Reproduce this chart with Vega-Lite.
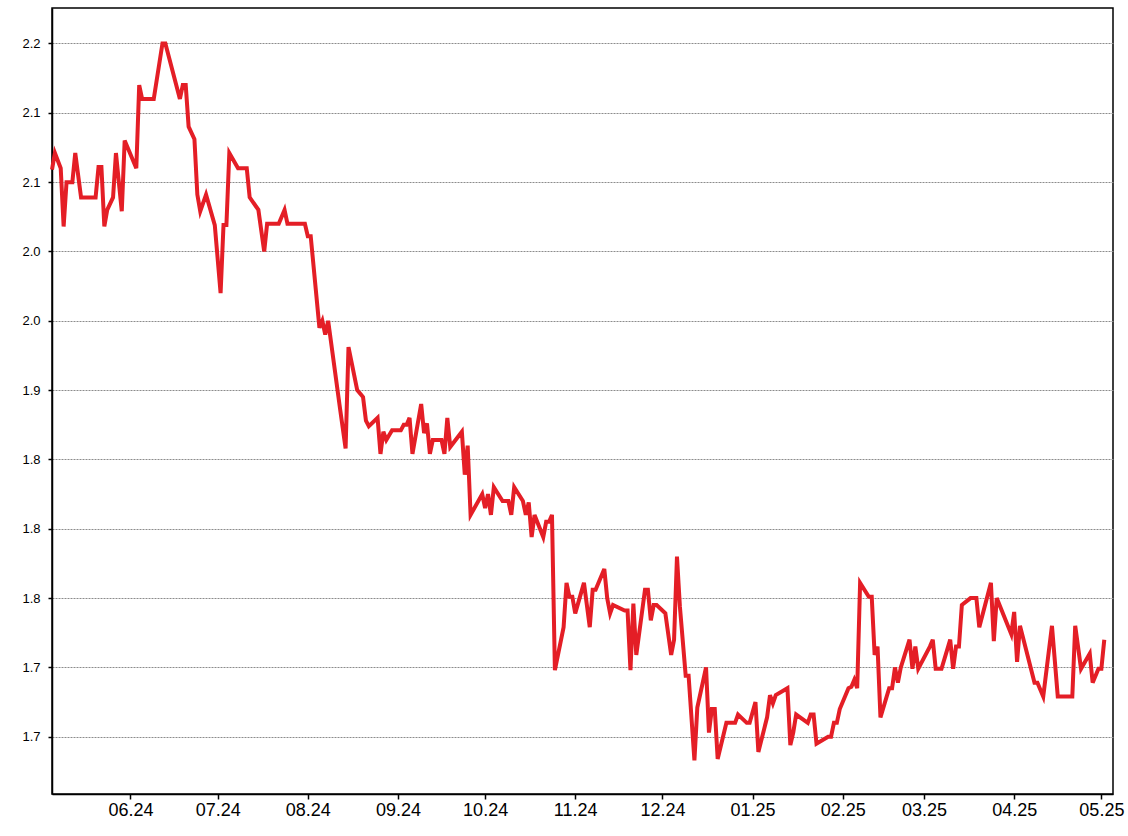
{
  "$schema": "https://vega.github.io/schema/vega-lite/v6.json",
  "width": 1061,
  "height": 786,
  "autosize": {"type": "none"},
  "padding": {"left": 52, "top": 8, "right": 15, "bottom": 42},
  "background": "#ffffff",
  "config": {
    "view": {"stroke": "#000000", "strokeWidth": 1.5},
    "font": "Liberation Sans"
  },
  "data": {
    "values": [
      {"date": "2024-05-05", "value": 2.109},
      {"date": "2024-05-06", "value": 2.121},
      {"date": "2024-05-08", "value": 2.110},
      {"date": "2024-05-09", "value": 2.068},
      {"date": "2024-05-10", "value": 2.100},
      {"date": "2024-05-12", "value": 2.100},
      {"date": "2024-05-13", "value": 2.121},
      {"date": "2024-05-15", "value": 2.089},
      {"date": "2024-05-20", "value": 2.089},
      {"date": "2024-05-21", "value": 2.111},
      {"date": "2024-05-22", "value": 2.111},
      {"date": "2024-05-23", "value": 2.068},
      {"date": "2024-05-24", "value": 2.080},
      {"date": "2024-05-26", "value": 2.089},
      {"date": "2024-05-27", "value": 2.121},
      {"date": "2024-05-29", "value": 2.079},
      {"date": "2024-05-30", "value": 2.130},
      {"date": "2024-06-03", "value": 2.110},
      {"date": "2024-06-04", "value": 2.170},
      {"date": "2024-06-05", "value": 2.160},
      {"date": "2024-06-09", "value": 2.160},
      {"date": "2024-06-12", "value": 2.200},
      {"date": "2024-06-13", "value": 2.200},
      {"date": "2024-06-18", "value": 2.160},
      {"date": "2024-06-19", "value": 2.170},
      {"date": "2024-06-20", "value": 2.170},
      {"date": "2024-06-21", "value": 2.140},
      {"date": "2024-06-23", "value": 2.131},
      {"date": "2024-06-24", "value": 2.091},
      {"date": "2024-06-25", "value": 2.079},
      {"date": "2024-06-27", "value": 2.091},
      {"date": "2024-06-30", "value": 2.069},
      {"date": "2024-07-02", "value": 2.020},
      {"date": "2024-07-03", "value": 2.069},
      {"date": "2024-07-04", "value": 2.069},
      {"date": "2024-07-05", "value": 2.121},
      {"date": "2024-07-08", "value": 2.110},
      {"date": "2024-07-11", "value": 2.110},
      {"date": "2024-07-12", "value": 2.089},
      {"date": "2024-07-15", "value": 2.080},
      {"date": "2024-07-17", "value": 2.050},
      {"date": "2024-07-18", "value": 2.070},
      {"date": "2024-07-22", "value": 2.070},
      {"date": "2024-07-24", "value": 2.080},
      {"date": "2024-07-25", "value": 2.070},
      {"date": "2024-07-31", "value": 2.070},
      {"date": "2024-08-01", "value": 2.061},
      {"date": "2024-08-02", "value": 2.061},
      {"date": "2024-08-05", "value": 1.995},
      {"date": "2024-08-06", "value": 2.000},
      {"date": "2024-08-07", "value": 1.990},
      {"date": "2024-08-08", "value": 2.000},
      {"date": "2024-08-12", "value": 1.938},
      {"date": "2024-08-14", "value": 1.908},
      {"date": "2024-08-15", "value": 1.981},
      {"date": "2024-08-18", "value": 1.950},
      {"date": "2024-08-20", "value": 1.945},
      {"date": "2024-08-21", "value": 1.928},
      {"date": "2024-08-22", "value": 1.924},
      {"date": "2024-08-25", "value": 1.930},
      {"date": "2024-08-26", "value": 1.904},
      {"date": "2024-08-27", "value": 1.920},
      {"date": "2024-08-28", "value": 1.914},
      {"date": "2024-08-30", "value": 1.921},
      {"date": "2024-09-02", "value": 1.921},
      {"date": "2024-09-03", "value": 1.925},
      {"date": "2024-09-04", "value": 1.925},
      {"date": "2024-09-05", "value": 1.930},
      {"date": "2024-09-06", "value": 1.904},
      {"date": "2024-09-09", "value": 1.940},
      {"date": "2024-09-10", "value": 1.919},
      {"date": "2024-09-11", "value": 1.926},
      {"date": "2024-09-12", "value": 1.904},
      {"date": "2024-09-13", "value": 1.914},
      {"date": "2024-09-16", "value": 1.914},
      {"date": "2024-09-17", "value": 1.904},
      {"date": "2024-09-18", "value": 1.930},
      {"date": "2024-09-19", "value": 1.909},
      {"date": "2024-09-23", "value": 1.920},
      {"date": "2024-09-24", "value": 1.889},
      {"date": "2024-09-25", "value": 1.910},
      {"date": "2024-09-26", "value": 1.860},
      {"date": "2024-09-30", "value": 1.875},
      {"date": "2024-10-01", "value": 1.865},
      {"date": "2024-10-02", "value": 1.875},
      {"date": "2024-10-03", "value": 1.860},
      {"date": "2024-10-04", "value": 1.880},
      {"date": "2024-10-07", "value": 1.870},
      {"date": "2024-10-09", "value": 1.870},
      {"date": "2024-10-10", "value": 1.860},
      {"date": "2024-10-11", "value": 1.880},
      {"date": "2024-10-14", "value": 1.870},
      {"date": "2024-10-15", "value": 1.860},
      {"date": "2024-10-16", "value": 1.869},
      {"date": "2024-10-17", "value": 1.844},
      {"date": "2024-10-18", "value": 1.860},
      {"date": "2024-10-21", "value": 1.844},
      {"date": "2024-10-22", "value": 1.855},
      {"date": "2024-10-23", "value": 1.855},
      {"date": "2024-10-24", "value": 1.860},
      {"date": "2024-10-25", "value": 1.748},
      {"date": "2024-10-28", "value": 1.779},
      {"date": "2024-10-29", "value": 1.811},
      {"date": "2024-10-30", "value": 1.801},
      {"date": "2024-10-31", "value": 1.801},
      {"date": "2024-11-01", "value": 1.789},
      {"date": "2024-11-04", "value": 1.811},
      {"date": "2024-11-06", "value": 1.779},
      {"date": "2024-11-07", "value": 1.806},
      {"date": "2024-11-08", "value": 1.806},
      {"date": "2024-11-11", "value": 1.821},
      {"date": "2024-11-12", "value": 1.800},
      {"date": "2024-11-13", "value": 1.789},
      {"date": "2024-11-14", "value": 1.795},
      {"date": "2024-11-18", "value": 1.791},
      {"date": "2024-11-19", "value": 1.791},
      {"date": "2024-11-20", "value": 1.748},
      {"date": "2024-11-21", "value": 1.796},
      {"date": "2024-11-22", "value": 1.759},
      {"date": "2024-11-25", "value": 1.806},
      {"date": "2024-11-26", "value": 1.806},
      {"date": "2024-11-27", "value": 1.784},
      {"date": "2024-11-28", "value": 1.795},
      {"date": "2024-11-29", "value": 1.795},
      {"date": "2024-12-02", "value": 1.789},
      {"date": "2024-12-04", "value": 1.759},
      {"date": "2024-12-05", "value": 1.770},
      {"date": "2024-12-06", "value": 1.830},
      {"date": "2024-12-07", "value": 1.794},
      {"date": "2024-12-09", "value": 1.744},
      {"date": "2024-12-10", "value": 1.744},
      {"date": "2024-12-12", "value": 1.683},
      {"date": "2024-12-13", "value": 1.721},
      {"date": "2024-12-16", "value": 1.750},
      {"date": "2024-12-17", "value": 1.703},
      {"date": "2024-12-18", "value": 1.720},
      {"date": "2024-12-19", "value": 1.720},
      {"date": "2024-12-20", "value": 1.684},
      {"date": "2024-12-23", "value": 1.710},
      {"date": "2024-12-26", "value": 1.710},
      {"date": "2024-12-27", "value": 1.716},
      {"date": "2024-12-30", "value": 1.710},
      {"date": "2024-12-31", "value": 1.710},
      {"date": "2025-01-02", "value": 1.725},
      {"date": "2025-01-03", "value": 1.689},
      {"date": "2025-01-06", "value": 1.714},
      {"date": "2025-01-07", "value": 1.730},
      {"date": "2025-01-08", "value": 1.724},
      {"date": "2025-01-09", "value": 1.730},
      {"date": "2025-01-13", "value": 1.735},
      {"date": "2025-01-14", "value": 1.694},
      {"date": "2025-01-15", "value": 1.703},
      {"date": "2025-01-16", "value": 1.716},
      {"date": "2025-01-20", "value": 1.710},
      {"date": "2025-01-21", "value": 1.716},
      {"date": "2025-01-22", "value": 1.716},
      {"date": "2025-01-23", "value": 1.695},
      {"date": "2025-01-27", "value": 1.700},
      {"date": "2025-01-28", "value": 1.700},
      {"date": "2025-01-29", "value": 1.710},
      {"date": "2025-01-30", "value": 1.710},
      {"date": "2025-01-31", "value": 1.720},
      {"date": "2025-02-03", "value": 1.735},
      {"date": "2025-02-04", "value": 1.736},
      {"date": "2025-02-05", "value": 1.741},
      {"date": "2025-02-06", "value": 1.735},
      {"date": "2025-02-07", "value": 1.811},
      {"date": "2025-02-10", "value": 1.801},
      {"date": "2025-02-11", "value": 1.801},
      {"date": "2025-02-12", "value": 1.759},
      {"date": "2025-02-13", "value": 1.765},
      {"date": "2025-02-14", "value": 1.714},
      {"date": "2025-02-17", "value": 1.735},
      {"date": "2025-02-18", "value": 1.735},
      {"date": "2025-02-19", "value": 1.750},
      {"date": "2025-02-20", "value": 1.739},
      {"date": "2025-02-21", "value": 1.750},
      {"date": "2025-02-24", "value": 1.770},
      {"date": "2025-02-25", "value": 1.749},
      {"date": "2025-02-26", "value": 1.765},
      {"date": "2025-02-27", "value": 1.749},
      {"date": "2025-03-03", "value": 1.765},
      {"date": "2025-03-04", "value": 1.770},
      {"date": "2025-03-05", "value": 1.749},
      {"date": "2025-03-07", "value": 1.749},
      {"date": "2025-03-10", "value": 1.770},
      {"date": "2025-03-11", "value": 1.749},
      {"date": "2025-03-12", "value": 1.765},
      {"date": "2025-03-13", "value": 1.765},
      {"date": "2025-03-14", "value": 1.795},
      {"date": "2025-03-17", "value": 1.800},
      {"date": "2025-03-19", "value": 1.800},
      {"date": "2025-03-20", "value": 1.779},
      {"date": "2025-03-24", "value": 1.811},
      {"date": "2025-03-25", "value": 1.769},
      {"date": "2025-03-26", "value": 1.800},
      {"date": "2025-03-31", "value": 1.774},
      {"date": "2025-04-01", "value": 1.790},
      {"date": "2025-04-02", "value": 1.754},
      {"date": "2025-04-03", "value": 1.780},
      {"date": "2025-04-08", "value": 1.739},
      {"date": "2025-04-09", "value": 1.739},
      {"date": "2025-04-11", "value": 1.729},
      {"date": "2025-04-14", "value": 1.780},
      {"date": "2025-04-16", "value": 1.729},
      {"date": "2025-04-21", "value": 1.729},
      {"date": "2025-04-22", "value": 1.780},
      {"date": "2025-04-24", "value": 1.749},
      {"date": "2025-04-27", "value": 1.760},
      {"date": "2025-04-28", "value": 1.739},
      {"date": "2025-04-30", "value": 1.749},
      {"date": "2025-05-01", "value": 1.749},
      {"date": "2025-05-02", "value": 1.770}
    ]
  },
  "mark": {"type": "line", "color": "#e41e26", "strokeWidth": 4, "strokeJoin": "miter", "strokeMiterLimit": 4},
  "encoding": {
    "x": {
      "field": "date",
      "type": "temporal",
      "title": null,
      "scale": {
        "type": "utc",
        "domain": [
          {"year": 2024, "month": 5, "date": 5, "utc": true},
          {"year": 2025, "month": 5, "date": 5, "utc": true}
        ]
      },
      "axis": {
        "values": [
          {"year": 2024, "month": 6, "date": 1, "utc": true},
          {"year": 2024, "month": 7, "date": 1, "utc": true},
          {"year": 2024, "month": 8, "date": 1, "utc": true},
          {"year": 2024, "month": 9, "date": 1, "utc": true},
          {"year": 2024, "month": 10, "date": 1, "utc": true},
          {"year": 2024, "month": 11, "date": 1, "utc": true},
          {"year": 2024, "month": 12, "date": 1, "utc": true},
          {"year": 2025, "month": 1, "date": 1, "utc": true},
          {"year": 2025, "month": 2, "date": 1, "utc": true},
          {"year": 2025, "month": 3, "date": 1, "utc": true},
          {"year": 2025, "month": 4, "date": 1, "utc": true},
          {"year": 2025, "month": 5, "date": 1, "utc": true}
        ],
        "labelExpr": "utcFormat(datum.value, '%m.%y')",
        "grid": false,
        "domainColor": "#000000",
        "domainWidth": 1.5,
        "tickColor": "#000000",
        "tickWidth": 1.5,
        "tickSize": 5,
        "labelFont": "Liberation Sans",
        "labelFontSize": 18,
        "labelColor": "#000000",
        "labelPadding": 2,
        "labelFlush": false,
        "labelOverlap": false
      }
    },
    "y": {
      "field": "value",
      "type": "quantitative",
      "title": null,
      "scale": {"domain": [1.6587, 2.2256], "nice": false, "zero": false},
      "axis": {
        "values": [1.70, 1.75, 1.80, 1.85, 1.90, 1.95, 2.00, 2.05, 2.10, 2.15, 2.20],
        "labelExpr": "['1.7','1.7','1.8','1.8','1.8','1.9','2.0','2.0','2.1','2.1','2.2'][round((datum.value - 1.7) / 0.05)]",
        "grid": true,
        "gridColor": "#8c8c8c",
        "gridDash": [2, 1],
        "gridWidth": 1,
        "domainColor": "#000000",
        "domainWidth": 1.5,
        "tickColor": "#000000",
        "tickWidth": 1.5,
        "tickSize": 4,
        "labelFont": "Liberation Sans",
        "labelFontSize": 13,
        "labelColor": "#000000",
        "labelPadding": 8,
        "labelFlush": false,
        "labelOverlap": false
      }
    }
  }
}
